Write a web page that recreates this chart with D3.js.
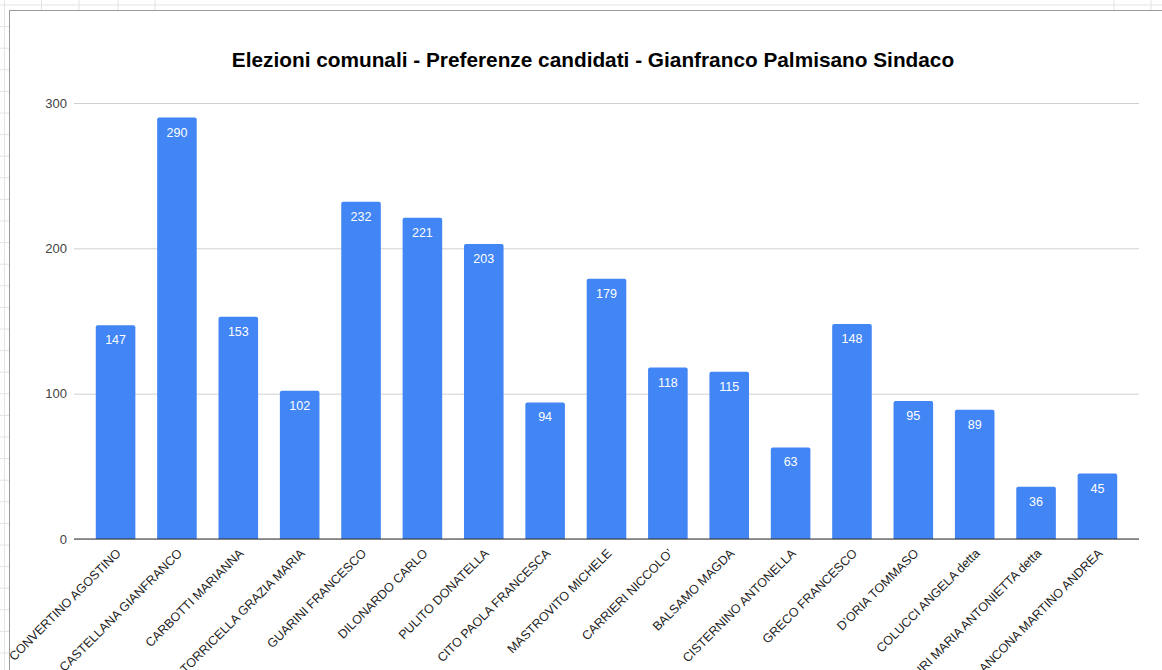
<!DOCTYPE html>
<html>
<head>
<meta charset="utf-8">
<script src="https://cdn.jsdelivr.net/npm/d3@7"></script>
<style>
    body { margin: 0; background: #fff; }
    svg { display: block; font-family: "Liberation Sans", Arial, sans-serif; }
</style>
</head>
<body>
<div id="chart"></div>
<script>

// candidates and their preference votes
const candidates = [
    "CONVERTINO AGOSTINO", "CASTELLANA GIANFRANCO", "CARBOTTI MARIANNA",
    "TORRICELLA GRAZIA MARIA", "GUARINI FRANCESCO", "DILONARDO CARLO",
    "PULITO DONATELLA", "CITO PAOLA FRANCESCA", "MASTROVITO MICHELE",
    "CARRIERI NICCOLO’", "BALSAMO MAGDA", "CISTERNINO ANTONELLA",
    "GRECO FRANCESCO", "D’ORIA TOMMASO", "COLUCCI ANGELA detta",
    "LAURI MARIA ANTONIETTA detta", "ANCONA MARTINO ANDREA"
];
const votes = [147, 290, 153, 102, 232, 221, 203, 94, 179, 118, 115, 63, 148, 95, 89, 36, 45];
const yTicks = [0, 100, 200, 300];

const title = "Elezioni comunali - Preferenze candidati - Gianfranco Palmisano Sindaco";

const W = 1162, H = 670;
const margin = {top: 103, right: 23, bottom: 131, left: 74};
const width = W - margin.left - margin.right;
const height = H - margin.top - margin.bottom;

let svg = d3.select("#chart").append("svg")
    .attr("width", W)
    .attr("height", H);

// spreadsheet grid behind the chart box
let bg = svg.append("g").attr("class", "sheet");
let rowLines = d3.range(5, H, 21.6);
let colLines = [4.5, 41.5, 79, 118, 155, 1114, 1151];
bg.selectAll(".row").data(rowLines).enter().append("line")
    .attr("x1", 0).attr("x2", W)
    .attr("y1", d => d).attr("y2", d => d)
    .attr("stroke", "#e3e3e3");
bg.selectAll(".col").data(colLines).enter().append("line")
    .attr("x1", d => d).attr("x2", d => d)
    .attr("y1", 0).attr("y2", H)
    .attr("stroke", "#e3e3e3");

// chart box
svg.append("rect")
    .attr("x", 9.5).attr("y", 10.5)
    .attr("width", W + 20).attr("height", H + 20)
    .attr("fill", "#fff")
    .attr("stroke", "#9a9a9a");

// title
svg.append("text")
    .attr("x", 593)
    .attr("y", 67)
    .attr("text-anchor", "middle")
    .attr("font-weight", "bold")
    .attr("font-size", 20.8)
    .attr("fill", "#000")
    .text(title);

let g = svg.append("g")
    .attr("transform", `translate(${margin.left},${margin.top})`);

// scales
let x = d3.scaleBand()
    .domain(candidates)
    .range([0, width])
    .paddingInner(0.355)
    .paddingOuter(0.355);

let y = d3.scaleLinear()
    .domain([0, 300])
    .range([height, 0]);

// gridlines + y labels
let yAxis = d3.axisLeft(y)
    .tickValues(yTicks)
    .tickSize(-width)
    .tickPadding(7);

g.append("g")
    .attr("class", "y-axis")
    .call(yAxis)
    .call(a => a.select(".domain").remove())
    .call(a => a.selectAll(".tick line").attr("stroke", "#d0d0d0"))
    .call(a => a.selectAll(".tick text")
        .attr("font-size", 13)
        .attr("fill", "#444")
        .attr("font-family", "Liberation Sans, Arial, sans-serif"));

// bars (slightly rounded tops)
g.selectAll(".bar")
    .data(votes)
    .enter().append("path")
    .attr("class", "bar")
    .attr("fill", "#4285f4")
    .attr("d", (d, i) => {
        let x0 = x(candidates[i]), w = x.bandwidth();
        let y0 = y(d), r = 2;
        return `M${x0},${height}V${y0 + r}Q${x0},${y0} ${x0 + r},${y0}H${x0 + w - r}Q${x0 + w},${y0} ${x0 + w},${y0 + r}V${height}Z`;
    });

// value labels
g.selectAll(".val")
    .data(votes)
    .enter().append("text")
    .attr("class", "val")
    .attr("x", (d, i) => x(candidates[i]) + x.bandwidth() / 2)
    .attr("y", d => y(d) + 19)
    .attr("text-anchor", "middle")
    .attr("font-size", 12.5)
    .attr("fill", "#fff")
    .text(d => d);

// x axis baseline
g.append("line")
    .attr("x1", 0).attr("x2", width)
    .attr("y1", height).attr("y2", height)
    .attr("stroke", "#333");

// rotated category labels
g.selectAll(".cat")
    .data(candidates)
    .enter().append("text")
    .attr("class", "cat")
    .attr("text-anchor", "end")
    .attr("font-size", 12.5)
    .attr("fill", "#222")
    .attr("transform", d => `translate(${x(d) + x.bandwidth() / 2 + 6},${height + 15}) rotate(-45)`)
    .text(d => d);

</script>
</body>
</html>
